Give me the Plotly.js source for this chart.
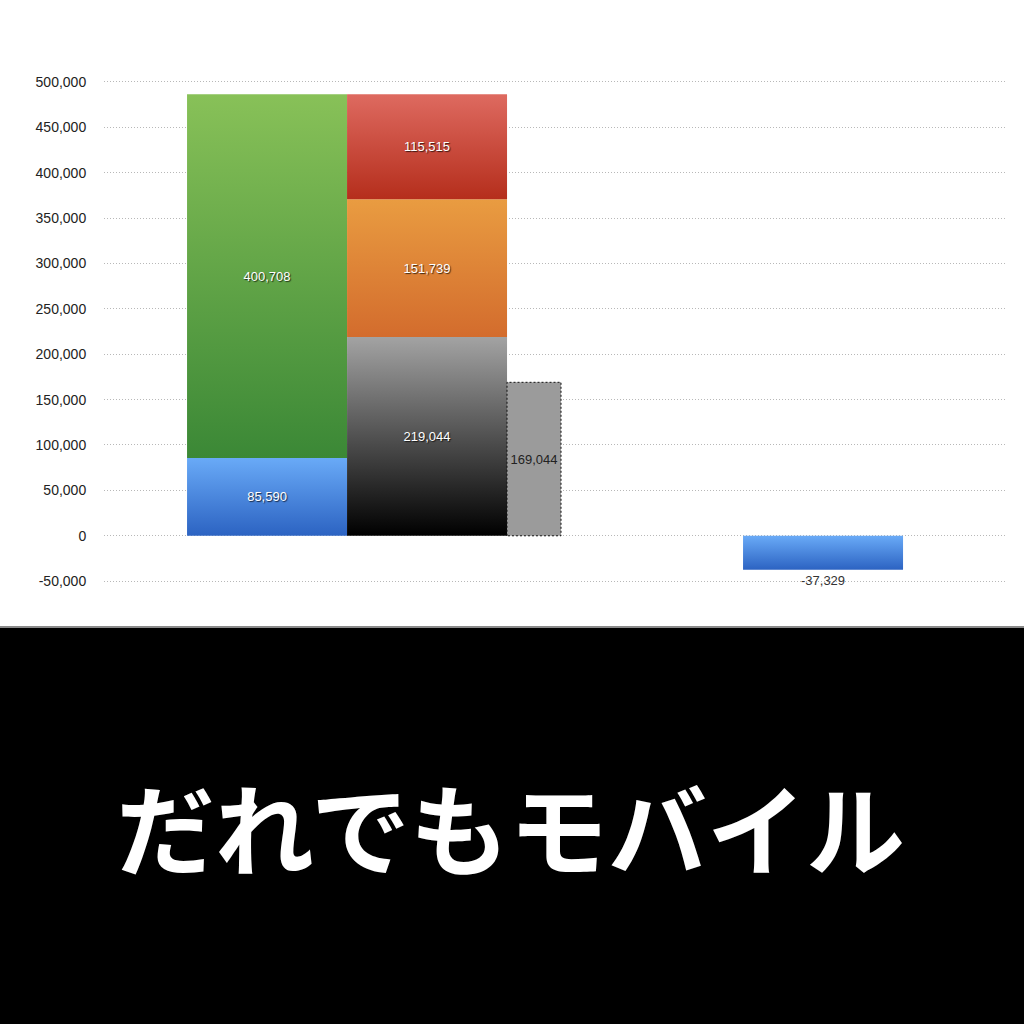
<!DOCTYPE html>
<html><head><meta charset="utf-8">
<script src="https://cdn.plot.ly/plotly-3.0.1.min.js"></script>
<style>html,body{margin:0;padding:0;background:#fff}#chart{width:1024px;height:1024px}</style>
</head><body><div id="chart"></div>
<script>
// ---- data ----
const yTickVals = [-50000,0,50000,100000,150000,200000,250000,300000,350000,400000,450000,500000];
const stackA = {names:["blueA","green"], values:[85590, 400708]};
const stackB = {names:["black","orange","red"], values:[219044, 151739, 115515]};
const singleC = {name:"grayC", value:169044};
const singleD = {name:"blueD", value:-37329};
const titleText = "だれでもモバイル";

// ---- positions / styles ----
const pos = {A:1.019, B:2.019, C:2.6875, D:4.494};
const widths = {A:1, B:1, C:0.3375, D:1};
const grads = {
  blueA:["#69aaf7","#2c63c2"], green:["#88c158","#3b8836"],
  black:["#a3a3a3","#000000"], orange:["#e99c41","#d36c2d"], red:["#de6a60","#b52e1c"],
  blueD:["#69aaf7","#2c63c2"]
};
const fmt = v => v.toLocaleString('en-US');
const inFont = {family:"Liberation Sans, Arial, sans-serif", size:13, color:"#ffffff", shadow:"1px 1px 1px rgba(0,0,0,0.7)"};

const traces = [];
stackA.names.forEach((n,i)=>traces.push({type:'bar', name:n, x:[pos.A], y:[stackA.values[i]], width:[widths.A],
  text:[fmt(stackA.values[i])], textposition:'inside', insidetextanchor:'middle', textfont:inFont,
  marker:{color:grads[n][1], line:{width:0}}, hoverinfo:'skip', textangle:0}));
stackB.names.forEach((n,i)=>traces.push({type:'bar', name:n, x:[pos.B], y:[stackB.values[i]], width:[widths.B],
  text:[fmt(stackB.values[i])], textposition:'inside', insidetextanchor:'middle', textfont:inFont,
  marker:{color:grads[n][1], line:{width:0}}, hoverinfo:'skip', textangle:0}));
traces.push({type:'bar', name:singleC.name, x:[pos.C], y:[singleC.value], width:[widths.C],
  text:[fmt(singleC.value)], textposition:'inside', insidetextanchor:'middle', constraintext:'none', textangle:0,
  textfont:{family:"Liberation Sans, Arial, sans-serif", size:13, color:"#222"},
  marker:{color:"#9b9b9b", line:{width:1, color:"#111"}}, hoverinfo:'skip'});
traces.push({type:'bar', name:singleD.name, x:[pos.D], y:[singleD.value], width:[widths.D],
  text:[fmt(singleD.value)], textposition:'outside', cliponaxis:false, constraintext:'none', textangle:0,
  textfont:{family:"Liberation Sans, Arial, sans-serif", size:13, color:"#333"},
  marker:{color:grads.blueD[1], line:{width:0}}, hoverinfo:'skip'});

const H = 1024;
const layout = {
  width:1024, height:H, showlegend:false, barmode:'relative',
  paper_bgcolor:'#ffffff', plot_bgcolor:'rgba(0,0,0,0)',
  margin:{l:104, r:17, t:80, b:441, pad:0},
  xaxis:{range:[0, 903/160], showgrid:false, zeroline:false, showticklabels:false, ticks:'', showline:false, fixedrange:true},
  yaxis:{range:[-52000,502000], tickvals:yTickVals, ticktext:yTickVals.map(fmt),
    showgrid:true, gridcolor:'#b8b8b8', griddash:'1px,2px', gridwidth:1, zeroline:false, showline:false,
    ticks:'outside', ticklen:14, tickcolor:'rgba(0,0,0,0)',
    tickfont:{family:"Liberation Sans, Arial, sans-serif", size:14, color:'#222'}, fixedrange:true},
  shapes:[
    {type:'rect', xref:'paper', yref:'paper', x0:-0.2, x1:1.1, y0:-(441)/503, y1:-(626-583)/503, fillcolor:'#000', line:{width:0}, layer:'above'},
    {type:'rect', xref:'paper', yref:'paper', x0:-0.2, x1:1.1, y0:-(628-583)/503, y1:-(626-583)/503, fillcolor:'#8a8a8a', line:{width:0}, layer:'above'}
  ],
  annotations:[{xref:'paper', yref:'paper', x:(510-104)/903, y:-(825-583)/503, xanchor:'center', yanchor:'middle', showarrow:false,
    text:'<b>'+titleText+'</b>', font:{family:"Noto Sans CJK JP, sans-serif", size:99, color:'#ffffff', weight:900}}]
};

Plotly.newPlot('chart', traces, layout, {staticPlot:true, displayModeBar:false}).then(gd=>{
  const svg = gd.querySelector('svg.main-svg');
  const ns = 'http://www.w3.org/2000/svg';
  let defs = svg.querySelector('defs');
  if(!defs){defs=document.createElementNS(ns,'defs'); svg.insertBefore(defs, svg.firstChild);}
  Object.keys(grads).forEach(k=>{
    const g=document.createElementNS(ns,'linearGradient');
    g.setAttribute('id','grad-'+k); g.setAttribute('x1','0'); g.setAttribute('y1','0'); g.setAttribute('x2','0'); g.setAttribute('y2','1');
    [[0,grads[k][0]],[1,grads[k][1]]].forEach(([o,c])=>{const s=document.createElementNS(ns,'stop'); s.setAttribute('offset',o); s.setAttribute('stop-color',c); g.appendChild(s);});
    defs.appendChild(g);
  });
  const traceGroups = gd.querySelectorAll('.barlayer .trace');
  traceGroups.forEach((tg,i)=>{
    const nm = traces[i].name;
    tg.querySelectorAll('path').forEach(p=>{
      if(grads[nm]) p.style.fill='url(#grad-'+nm+')';
      if(nm===singleC.name){p.style.strokeDasharray='2,2'; p.style.stroke='#111'; p.style.strokeWidth='1px';}
    });
  });
});
</script></body></html>
